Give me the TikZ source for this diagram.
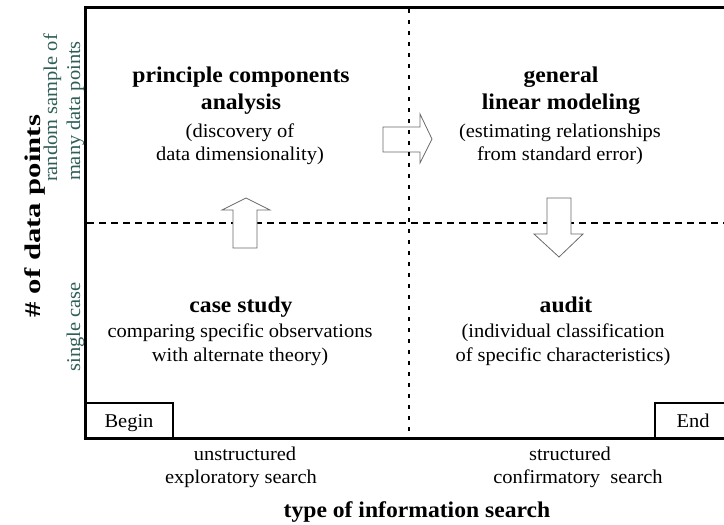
\documentclass[tikz,border=0pt]{standalone}
\usepackage{fontspec}
\setmainfont[FakeStretch=1.05]{Liberation Serif}
\definecolor{sidecol}{HTML}{2E5E56}
\definecolor{arrowgray}{HTML}{6A6A6A}
\tikzset{
  txt/.style={anchor=base, inner sep=0pt, text=black, font=\fontsize{19.5}{23}\selectfont},
  btxt/.style={anchor=base, inner sep=0pt, text=black, font=\fontsize{22.5}{26}\selectfont\bfseries},
  sidetxt/.style={anchor=base, inner sep=0pt, rotate=90, text=sidecol, font=\fontsize{19.5}{23}\selectfont},
  frameline/.style={line width=3pt, black},
  boxline/.style={line width=2pt, black},
  fatarrow/.style={draw=arrowgray, line width=0.8pt, fill=white, line join=miter},
  vdots/.style={line width=2.2pt, dash pattern=on 4pt off 7pt},
  hdash/.style={line width=1.8pt, dash pattern=on 7pt off 5pt},
}
\begin{document}
\begin{tikzpicture}[x=1pt, y=-1pt]
\useasboundingbox (0,0) rectangle (724,525);
% horizontal grid line
\draw[hdash] (87,223) -- (724,223);
% arrows
\draw[fatarrow] (383,127) -- (420,127) -- (420,114) -- (432,139) -- (420,163) -- (420,152) -- (383,152) -- cycle;
\draw[fatarrow] (233,248) -- (233,210) -- (222,210) -- (246,198) -- (270,210) -- (257,210) -- (257,248) -- cycle;
\draw[fatarrow] (547,198) -- (571,198) -- (571,234) -- (583,234) -- (559,257) -- (534,234) -- (547,234) -- cycle;
% vertical grid line
\draw[vdots] (409,9) -- (409,436);
% frame
\draw[frameline] (724,7) -- (85,7) -- (85,438) -- (724,438);
% begin/end boxes
\draw[boxline] (85,403) -| (173,438);
\draw[boxline] (655,438) |- (726,403);
\node[txt] (begin) at (129,427) {Begin};
\node[txt] (end) at (693,427) {End};
% top-left
\node[btxt] (tl1) at (241,82) {principle components};
\node[btxt] (tl2) at (241,109) {analysis};
\node[txt] (tl3) at (240,137) {(discovery of};
\node[txt] (tl4) at (240,160) {data dimensionality)};
% top-right
\node[btxt] (tr1) at (561,82) {general};
\node[btxt] (tr2) at (561,109) {linear modeling};
\node[txt] (tr3) at (560,137) {(estimating relationships};
\node[txt] (tr4) at (560,160) {from standard error)};
% bottom-left
\node[btxt] (bl1) at (241,312) {case study};
\node[txt] (bl2) at (240,337) {comparing specific observations};
\node[txt] (bl3) at (240,361) {with alternate theory)};
% bottom-right
\node[btxt] (br1) at (566,312) {audit};
\node[txt] (br2) at (563,337) {(individual classification};
\node[txt] (br3) at (563,361) {of specific characteristics)};
% x-axis labels
\node[txt] (xa1) at (245,460) {unstructured};
\node[txt] (xa2) at (241,483) {exploratory search};
\node[txt] (xb1) at (570,460) {structured};
\node[txt] (xb2) at (578,483) {confirmatory\ \ search};
\node[btxt] (xtitle) at (417,517) {type of information search};
% y-axis labels
\node[btxt, rotate=90] (ytitle) at (40,216) {\scalebox{1.3}[1]{\# of data points}};
\node[sidetxt] (ya1) at (57,108) {random sample of};
\node[sidetxt] (ya2) at (80,111) {many data points};
\node[sidetxt] (yb1) at (80,327) {single case};
\end{tikzpicture}
\end{document}
